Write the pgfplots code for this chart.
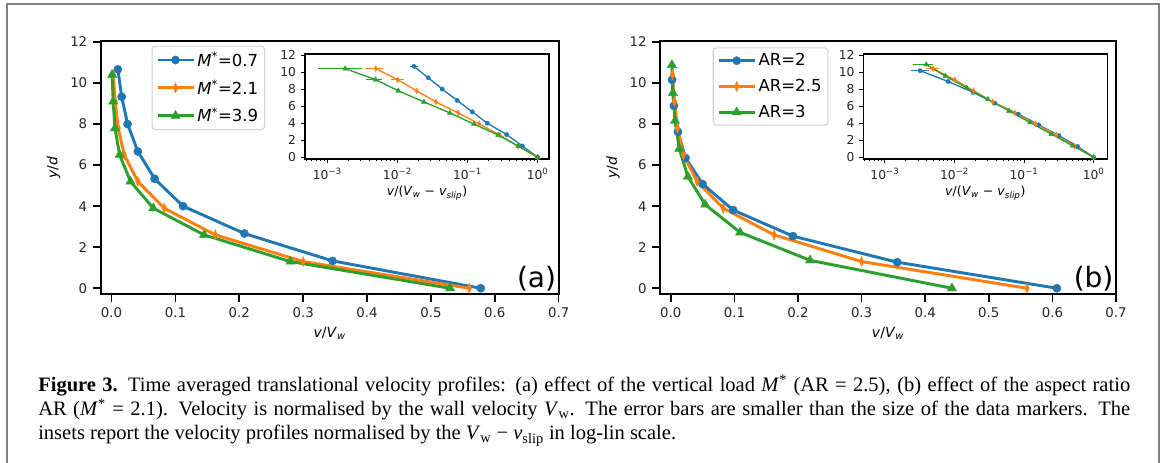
\documentclass[border=0pt]{standalone}
\usepackage{fontspec}
\setmainfont{DejaVu Sans}
\newfontfamily\capfont{Liberation Serif}
\usepackage{graphicx}
\usepackage{pgfplots}
\pgfplotsset{compat=1.18}
\definecolor{tabblue}{HTML}{1F77B4}
\definecolor{taborange}{HTML}{FF7F0E}
\definecolor{tabgreen}{HTML}{2CA02C}

\pgfplotsset{
  mainax/.style={
    scale only axis, height=189.75pt,
    xmin=-0.017, xmax=0.7, ymin=-0.28, ymax=12.05,
    xtick={0,0.1,0.2,0.3,0.4,0.5,0.6,0.7}, ytick={0,2,4,6,8,10,12},
    xtick pos=bottom, ytick pos=left, tick align=outside,
    major tick length=6pt,
    tick style={line width=1.2pt, black},
    line width=1.5pt, clip=false,
    ticklabel style={font=\fontsize{10pt}{11pt}\selectfont, text=black!85},
    yticklabel style={/pgf/number format/assume math mode=true},
    xticklabel style={/pgf/number format/.cd, fixed, fixed zerofill, precision=1, assume math mode=true},
    xlabel={\textit{v}/\textit{V}\textsubscript{\textit{w}}},
    ylabel={\textit{y}/\textit{d}},
    label style={font=\fontsize{10.5pt}{12pt}\selectfont},
    legend cell align=left,
    legend style={anchor=north west, draw=black!18, line width=0.8pt,
      rounded corners=2.5pt, fill=white, font=\fontsize{12.4pt}{14pt}\selectfont,
      inner xsep=3pt, inner ysep=2.5pt, row sep=5pt, nodes={inner sep=1.8pt}},
    legend image code/.code={\draw[mark repeat=2,mark phase=2]
      plot coordinates {(0pt,0pt) (13.5pt,0pt) (27pt,0pt)};},
  },
  insetax/.style={
    scale only axis, width=183pt, height=78.75pt,
    ymin=-0.2, ymax=12.12, ytick={0,2,4,6,8,10,12},
    xtick={0.001,0.01,0.1,1},
    xticklabels={10\textsuperscript{−3},10\textsuperscript{−2},10\textsuperscript{−1},10\textsuperscript{0}},
    minor xtick={0.0005,0.0006,0.0007,0.0008,0.0009,0.002,0.003,0.004,0.005,0.006,0.007,0.008,0.009,
      0.02,0.03,0.04,0.05,0.06,0.07,0.08,0.09,0.2,0.3,0.4,0.5,0.6,0.7,0.8,0.9},
    xtick pos=bottom, ytick pos=left, tick align=outside,
    major tick length=3pt, minor tick length=1.8pt,
    tick style={line width=0.7pt, black},
    line width=0.8pt, clip=false,
    axis background/.style={fill=white},
    ticklabel style={font=\fontsize{9.2pt}{10pt}\selectfont, text=black!85},
    yticklabel style={/pgf/number format/assume math mode=true},
    xlabel={\textit{v}/(\textit{V}\textsubscript{\textit{w}} − \textit{v}\textsubscript{\textit{slip}})},
    label style={font=\fontsize{9.4pt}{10pt}\selectfont},
    xlabel style={yshift=2pt},
    error bars/x dir=both, error bars/x explicit,
    error bars/error bar style={line width=0.7pt},
    error bars/error mark options={mark size=1.6pt, line width=0.7pt},
  },
  pb/.style={tabblue, line width=2.2pt, mark=*, mark size=3.1pt, mark options={line width=0.3pt}},
  po/.style={taborange, line width=2.2pt, mark=diamond*, mark size=3.8pt, mark options={xscale=0.6, line width=0.3pt}},
  pg/.style={tabgreen, line width=2.2pt, mark=triangle*, mark size=4pt, mark options={line width=0.3pt}},
  ib/.style={tabblue, line width=1.0pt, mark=*, mark size=1.6pt, mark options={line width=0.3pt}},
  io/.style={taborange, line width=1.0pt, mark=diamond*, mark size=2.2pt, mark options={xscale=0.7, line width=0.3pt}},
  ig/.style={tabgreen, line width=1.0pt, mark=triangle*, mark size=2.2pt, mark options={line width=0.3pt}},
}

\begin{document}
\begin{tikzpicture}
\useasboundingbox (0pt,0pt) rectangle (876pt,347.25pt);
\draw[black!50, line width=1.5pt] (5.25pt,0pt) -- (5.25pt,344.25pt) -- (869.25pt,344.25pt) -- (869.25pt,0pt);

% ---------- panel (a)
\begin{axis}[mainax, width=343.5pt, at={(75.5pt,126.75pt)}, anchor=south west,
  legend style={at={(0.111,0.982)}}]
\addplot[pb] coordinates {(0.578,0) (0.346,1.333) (0.208,2.667) (0.112,4.0) (0.0675,5.333)
  (0.0412,6.667) (0.0252,8.0) (0.0159,9.333) (0.0099,10.667)};
\addlegendentry{\textit{M}\textsuperscript{*}=0.7}
\addplot[po] coordinates {(0.56,0) (0.30,1.3) (0.1625,2.6) (0.0825,3.9) (0.0413,5.2)
  (0.0198,6.5) (0.0105,7.8) (0.0056,9.1) (0.0027,10.4)};
\addlegendentry{\textit{M}\textsuperscript{*}=2.1}
\addplot[pg] coordinates {(0.53,0) (0.280,1.3) (0.145,2.6) (0.0654,3.9) (0.0297,5.2)
  (0.0127,6.5) (0.0054,7.8) (0.0026,9.1) (0.0009,10.4)};
\addlegendentry{\textit{M}\textsuperscript{*}=3.9}
\node[anchor=south east, inner sep=1.2pt, font=\fontsize{21pt}{23pt}\selectfont] at (rel axis cs:1,0) {(a)};
\end{axis}

\begin{semilogxaxis}[insetax, at={(228.75pt,228pt)}, anchor=south west, xmin=0.000481, xmax=1.45]
\addplot[ib] coordinates {(1,0) (0.603,1.333) (0.361,2.667) (0.191,4) (0.1167,5.333)
  (0.0713,6.667) (0.0435,8) (0.0275,9.333) (0.0172,10.667) +- (0.0012,0)};
\addplot[io] coordinates {(1,0) (0.529,1.3) (0.290,2.6) (0.147,3.9) (0.0737,5.2)
  (0.0354,6.5) (0.0188,7.8) (0.0101,9.1) +- (0.0013,0) (0.0049,10.4) += (0.00086,0) -= (0.00126,0)};
\addplot[ig] coordinates {(1,0) (0.529,1.3) (0.274,2.6) (0.1234,3.9) (0.0561,5.2)
  (0.0239,6.5) (0.0103,7.8) (0.0049,9.1) += (0.0007,0) -= (0.0011,0) (0.0018,10.4) += (0.00116,0) -= (0.00102,0)};
\end{semilogxaxis}

% ---------- panel (b)
\begin{axis}[mainax, width=342pt, at={(495pt,126.75pt)}, anchor=south west,
  legend style={at={(0.1156,0.975)}}]
\addplot[pb] coordinates {(0.607,0) (0.356,1.27) (0.192,2.54) (0.098,3.81) (0.050,5.08)
  (0.0231,6.35) (0.0112,7.62) (0.0049,8.89) (0.0019,10.16)};
\addlegendentry{AR=2}
\addplot[po] coordinates {(0.56,0) (0.30,1.3) (0.1625,2.6) (0.0825,3.9) (0.0413,5.2)
  (0.0198,6.5) (0.0105,7.8) (0.0056,9.1) (0.0027,10.4)};
\addlegendentry{AR=2.5}
\addplot[pg] coordinates {(0.442,0) (0.219,1.36) (0.109,2.72) (0.054,4.08) (0.0268,5.44)
  (0.0133,6.8) (0.0066,8.16) (0.0033,9.52) (0.0017,10.88)};
\addlegendentry{AR=3}
\node[anchor=south east, inner sep=1.2pt, font=\fontsize{21pt}{23pt}\selectfont] at (rel axis cs:1,0) {(b)};
\end{axis}

\begin{semilogxaxis}[insetax, at={(647.5pt,228pt)}, anchor=south west, xmin=0.000489, xmax=1.57]
\addplot[ib] coordinates {(1,0) (0.587,1.27) (0.316,2.54) (0.1615,3.81) (0.0824,5.08)
  (0.038,6.35) (0.0185,7.62) (0.0081,8.89) (0.0032,10.16) += (0.00076,0) -= (0.00065,0)};
\addplot[io] coordinates {(1,0) (0.529,1.3) (0.290,2.6) (0.147,3.9) (0.0737,5.2)
  (0.0354,6.5) (0.0188,7.8) (0.0101,9.1) (0.0049,10.4) +- (0.0007,0)};
\addplot[ig] coordinates {(1,0) (0.496,1.36) (0.247,2.72) (0.122,4.08) (0.0607,5.44)
  (0.0301,6.8) (0.0149,8.16) (0.0074,9.52) (0.0039,10.88) += (0.0006,0) -= (0.0012,0)};
\end{semilogxaxis}

% ---------- caption
\node[anchor=base west, inner sep=0pt] at (28.5pt,53.5pt) {%
  \parbox[t]{819pt}{\capfont\fontsize{15.4pt}{18pt}\selectfont
  \textbf{Figure 3.}\hspace{0.5em}Time averaged translational velocity profiles: (a) effect of the vertical load \textit{M}\textsuperscript{*} (AR = 2.5), (b) effect of the aspect ratio\linebreak
  AR (\textit{M}\textsuperscript{*} = 2.1). Velocity is normalised by the wall velocity \textit{V}\textsubscript{w}. The error bars are smaller than the size of the data markers. The\linebreak
  insets report the velocity profiles normalised by the \textit{V}\textsubscript{w} − \textit{v}\textsubscript{slip} in log-lin scale.}};
\end{tikzpicture}
\end{document}
